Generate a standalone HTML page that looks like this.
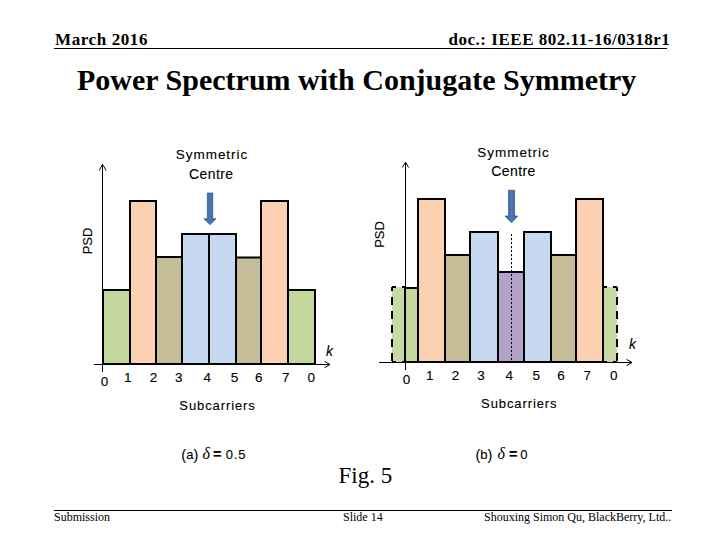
<!DOCTYPE html>
<html><head><meta charset="utf-8">
<style>
html,body{margin:0;padding:0;background:#fff;}
body{width:720px;height:540px;position:relative;overflow:hidden;}
.t{position:absolute;white-space:nowrap;font-family:"Liberation Serif",serif;color:#000;line-height:1;}
.hl{position:absolute;background:#000;height:1px;}
svg{position:absolute;left:0;top:0;}
.c{font-family:"Liberation Sans",sans-serif;stroke:#000;stroke-width:0.12px;}
</style></head>
<body>
<div class="t" style="left:55px;top:30.5px;font-size:17px;letter-spacing:0.6px;font-weight:bold;">March 2016</div>
<div class="t" style="left:448.5px;top:30.5px;font-size:17px;letter-spacing:0.52px;font-weight:bold;">doc.: IEEE 802.11-16/0318r1</div>
<div class="hl" style="left:54px;top:48px;width:613px;"></div>
<div class="t" style="left:77px;top:65px;font-size:30px;font-weight:bold;">Power Spectrum with Conjugate Symmetry</div>

<svg width="720" height="540" viewBox="0 0 720 540">
 <defs>
  <linearGradient id="ag" gradientUnits="userSpaceOnUse" x1="204" y1="0" x2="216" y2="0"><stop offset="0" stop-color="#335A8C"/><stop offset="0.5" stop-color="#4C7AB6"/><stop offset="1" stop-color="#335A8C"/></linearGradient>
  <linearGradient id="bg" gradientUnits="userSpaceOnUse" x1="505" y1="0" x2="518" y2="0"><stop offset="0" stop-color="#335A8C"/><stop offset="0.5" stop-color="#4C7AB6"/><stop offset="1" stop-color="#335A8C"/></linearGradient>
 </defs>
 <!-- chart A -->
 <g stroke="#000" stroke-width="2">
  <rect x="103" y="290" width="27" height="74" fill="#C3D69B"/>
  <rect x="130" y="201" width="26" height="163" fill="#FBD1B1"/>
  <rect x="156" y="257" width="26" height="107" fill="#C4BD97"/>
  <rect x="182" y="234" width="27" height="130" fill="#C6D9F1"/>
  <rect x="209" y="234" width="27" height="130" fill="#C6D9F1"/>
  <rect x="236" y="257.5" width="25" height="106.5" fill="#C4BD97"/>
  <rect x="261" y="201" width="27" height="163" fill="#FBD1B1"/>
  <rect x="288" y="290" width="27" height="74" fill="#C3D69B"/>
 </g>
 <g stroke="#000" stroke-width="1" fill="none">
  <line x1="102.5" y1="372" x2="102.5" y2="164.5"/>
  <polyline points="99.2,170.5 102.5,164.3 106.2,170.5"/>
  <line x1="94" y1="364.5" x2="330" y2="364.5"/>
  <polyline points="324.5,361.3 330,364.5 324.5,367.7"/>
 </g>
 <g class="c" font-size="13.5" text-anchor="middle" fill="#000">
  <text x="104.5" y="385.5">0</text>
  <text x="127.8" y="381.5">1</text>
  <text x="153.5" y="381.5">2</text>
  <text x="178.8" y="381.5">3</text>
  <text x="207.2" y="381.5">4</text>
  <text x="234.5" y="381.5">5</text>
  <text x="258.7" y="381.5">6</text>
  <text x="285.8" y="381.5">7</text>
  <text x="311.3" y="381.5">0</text>
 </g>
 <text class="c" x="326" y="355.5" font-size="14" font-style="italic" stroke="none">k</text>
 <text class="c" x="212" y="159" font-size="13.5" letter-spacing="0.95" text-anchor="middle">Symmetric</text>
 <text class="c" x="211.3" y="178.5" font-size="14" letter-spacing="0.4" text-anchor="middle">Centre</text>
 <text class="c" x="217.5" y="410.3" font-size="13" letter-spacing="0.9" text-anchor="middle">Subcarriers</text>
 <text class="c" y="459" font-size="13"><tspan x="181.3" font-size="14.5" dy="0.5">(</tspan><tspan dy="-0.5">a</tspan><tspan font-size="14.5" dy="0.5">)</tspan></text>
 <text x="202.5" y="458.7" font-size="16" font-family="Liberation Serif" font-style="italic">δ</text>
 <text class="c" x="213" y="459" font-size="14.5" font-weight="bold" stroke="none">=</text>
 <text class="c" x="225.8" y="459" font-size="13" letter-spacing="0.8">0.5</text>
 <text class="c" x="0" y="0" font-size="13" text-anchor="middle" transform="translate(91.5,241) rotate(-90)">PSD</text>
 <path d="M207.3,193 H212.8 V218.7 H216 L210,224.8 L204,218.7 H207.3 Z" fill="url(#ag)" stroke="#30578A" stroke-width="0.7"/>

 <!-- chart B -->
 <g stroke="#000" stroke-width="2">
  <rect x="392" y="287" width="13" height="75" fill="#C8D9A4" stroke="none"/>
  <rect x="604" y="287" width="13" height="75" fill="#C8D9A4" stroke="none"/>
  <path d="M392,287 H405 M392,287 V362 M392,362 H405" fill="none" stroke-dasharray="8,6" stroke-dashoffset="4"/>
  <path d="M617,287 H603 M617,287 V362 M617,362 H603" fill="none" stroke-dasharray="8,6" stroke-dashoffset="4"/>
  <rect x="405" y="288" width="13" height="74" fill="#C3D69B"/>
  <rect x="418" y="199" width="27" height="163" fill="#FBD1B1"/>
  <rect x="445" y="255" width="25" height="107" fill="#C4BD97"/>
  <rect x="470" y="232" width="28" height="130" fill="#C6D9F1"/>
  <rect x="498" y="272" width="26" height="90" fill="#B3A2C7"/>
  <rect x="524" y="232" width="27" height="130" fill="#C6D9F1"/>
  <rect x="551" y="255" width="25" height="107" fill="#C4BD97"/>
  <rect x="576" y="199" width="27" height="163" fill="#FBD1B1"/>
 </g>
 <g stroke="#000" stroke-width="1" fill="none">
  <line x1="405.5" y1="370" x2="405.5" y2="162.5"/>
  <polyline points="402.3,167.5 405.5,162.3 408.7,167.5"/>
  <line x1="379" y1="362.5" x2="632" y2="362.5"/>
  <polyline points="626.5,359.3 632,362.5 626.5,365.7"/>
  <line x1="511.5" y1="234" x2="511.5" y2="361" stroke-dasharray="2.2,1.8"/>
 </g>
 <g class="c" font-size="13.5" text-anchor="middle" fill="#000">
  <text x="406.6" y="384">0</text>
  <text x="429.8" y="380">1</text>
  <text x="455.5" y="380">2</text>
  <text x="481" y="380">3</text>
  <text x="509.3" y="380">4</text>
  <text x="536.3" y="380">5</text>
  <text x="561" y="380">6</text>
  <text x="587.2" y="380">7</text>
  <text x="613.8" y="380">0</text>
 </g>
 <text class="c" x="629" y="349.4" font-size="14" font-style="italic" stroke="none">k</text>
 <text class="c" x="513.5" y="157" font-size="13.5" letter-spacing="0.95" text-anchor="middle">Symmetric</text>
 <text class="c" x="513.5" y="176.3" font-size="14" letter-spacing="0.4" text-anchor="middle">Centre</text>
 <text class="c" x="519.3" y="408.3" font-size="13" letter-spacing="0.9" text-anchor="middle">Subcarriers</text>
 <text class="c" y="459" font-size="13"><tspan x="475.4" font-size="14.5" dy="0.5">(</tspan><tspan dy="-0.5">b</tspan><tspan font-size="14.5" dy="0.5">)</tspan></text>
 <text x="497.5" y="458.7" font-size="16" font-family="Liberation Serif" font-style="italic">δ</text>
 <text class="c" x="509" y="459" font-size="14.5" font-weight="bold" stroke="none">=</text>
 <text class="c" x="520.3" y="459" font-size="13">0</text>
 <text class="c" x="0" y="0" font-size="13" text-anchor="middle" transform="translate(384,234.5) rotate(-90)">PSD</text>
 <path d="M508.5,190.2 H514.6 V216 H517.8 L511.5,222.8 L505,216 H508.5 Z" fill="url(#bg)" stroke="#30578A" stroke-width="0.7"/>
</svg>

<div class="t" style="left:338.5px;top:463.5px;font-size:23px;">Fig. 5</div>
<div class="hl" style="left:54px;top:510px;width:618px;"></div>
<div class="t" style="left:54px;top:511px;font-size:12px;">Submission</div>
<div class="t" style="left:343px;top:511px;font-size:12px;">Slide 14</div>
<div class="t" style="left:484px;top:511px;font-size:12px;">Shouxing Simon Qu, BlackBerry, Ltd..</div>
</body></html>
